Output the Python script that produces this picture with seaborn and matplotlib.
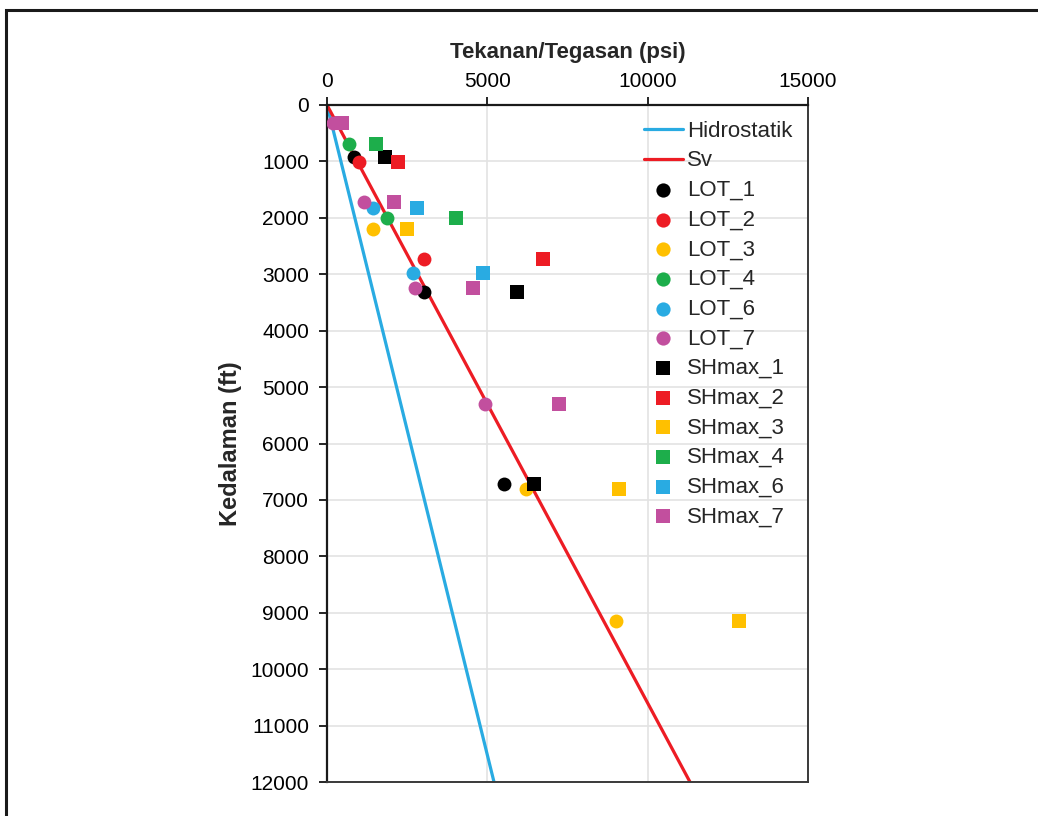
import numpy as np
import pandas as pd
import matplotlib
matplotlib.use("Agg")
import matplotlib.pyplot as plt
from matplotlib.patches import Rectangle
import seaborn as sns

# ---- data ----
hydro_psi = [0, 5208]
hydro_depth = [0, 12000]
sv_psi = [0, 11320]
sv_depth = [0, 12000]

lot1_depth = [915, 3315, 6720]
lot1_psi = [840, 3025, 5520]
shmax1_psi = [1810, 5915, 6465]

lot2_depth = [1005, 2730]
lot2_psi = [1010, 3035]
shmax2_depth = [1015, 2730]
shmax2_psi = [2225, 6745]

lot3_depth = [2195, 6800, 9145]
lot3_psi = [1445, 6205, 9000]
shmax3_psi = [2505, 9105, 12860]

lot4_depth = [690, 2010]
lot4_psi = [700, 1880]
shmax4_psi = [1530, 4020]

lot6_depth = [1820, 2985]
lot6_psi = [1425, 2690]
shmax6_psi = [2795, 4855]

lot7_depth = [325, 1715, 3250, 5300]
lot7_psi = [200, 1165, 2745, 4925]
shmax7_psi = [455, 2100, 4545, 7245]

colors = {"1": "#000000", "2": "#ED1C24", "3": "#FFC000",
          "4": "#1DAE4B", "6": "#29ABE2", "7": "#C24F9E"}

lot_series = [
    ("LOT_1", lot1_psi, lot1_depth, colors["1"]),
    ("LOT_2", lot2_psi, lot2_depth, colors["2"]),
    ("LOT_3", lot3_psi, lot3_depth, colors["3"]),
    ("LOT_4", lot4_psi, lot4_depth, colors["4"]),
    ("LOT_6", lot6_psi, lot6_depth, colors["6"]),
    ("LOT_7", lot7_psi, lot7_depth, colors["7"]),
]
shmax_series = [
    ("SHmax_1", shmax1_psi, lot1_depth, colors["1"]),
    ("SHmax_2", shmax2_psi, shmax2_depth, colors["2"]),
    ("SHmax_3", shmax3_psi, lot3_depth, colors["3"]),
    ("SHmax_4", shmax4_psi, lot4_depth, colors["4"]),
    ("SHmax_6", shmax6_psi, lot6_depth, colors["6"]),
    ("SHmax_7", shmax7_psi, lot7_depth, colors["7"]),
]

sns.set_theme(style="white")
plt.rcParams["font.family"] = ["Liberation Sans", "DejaVu Sans"]

fig = plt.figure(figsize=(10.38, 8.16), dpi=100)
ax = fig.add_axes([327 / 1038, 1 - 782 / 816, 481 / 1038, 677 / 816])

sns.lineplot(x=hydro_psi, y=hydro_depth, ax=ax, color="#29ABE2", lw=2.3,
             label="Hidrostatik", sort=False, zorder=2)
sns.lineplot(x=sv_psi, y=sv_depth, ax=ax, color="#ED1C24", lw=2.3,
             label="Sv", sort=False, zorder=2)

for name, xs, ys, c in lot_series:
    sns.scatterplot(x=xs, y=ys, ax=ax, color=c, marker="o", s=100,
                    linewidth=0, label=name, zorder=3)
for name, xs, ys, c in shmax_series:
    sns.scatterplot(x=xs, y=ys, ax=ax, color=c, marker="s", s=90,
                    linewidth=0, label=name, zorder=3)

ax.set_xlim(0, 15000)
ax.set_ylim(12000, 0)
ax.set_xticks([0, 5000, 10000, 15000])
ax.set_yticks(np.arange(0, 12001, 1000))
ax.xaxis.tick_top()
ax.xaxis.set_label_position("top")
ax.grid(True, color="#E3E3E3", lw=1.2)
ax.set_axisbelow(True)

for side in ["top", "left"]:
    ax.spines[side].set_color("#1a1a1a")
    ax.spines[side].set_linewidth(1.6)
for side in ["bottom", "right"]:
    ax.spines[side].set_color("#3a3a3a")
    ax.spines[side].set_linewidth(1.4)

ax.tick_params(axis="x", which="both", top=True, bottom=False, direction="out",
               length=6, width=1.2, pad=4, labelsize=15, colors="#000000")
ax.tick_params(axis="y", which="both", left=True, direction="out",
               length=6, width=1.2, pad=7, labelsize=15, colors="#000000")

ax.set_xlabel("Tekanan/Tegasan (psi)", fontsize=16, fontweight="bold", labelpad=10)
ax.set_ylabel("Kedalaman (ft)", fontsize=17, fontweight="bold", labelpad=6)

leg = ax.legend(loc="upper left", bbox_to_anchor=(0.64, 0.99), frameon=False,
                fontsize=16, handlelength=1.75, handletextpad=0.2,
                labelspacing=0.39, borderaxespad=0)
for h in leg.legend_handles:
    if hasattr(h, "set_sizes"):
        h.set_sizes([105])

# outer frame (only left and top edges visible in the reference)
fig.patches.append(Rectangle((6 / 1038, -0.2), 2.0, 0.2 + 1 - 9.5 / 816,
                             transform=fig.transFigure, fill=False,
                             edgecolor="#1a1a1a", lw=2.2))

fig.savefig("out.png", dpi=100)
